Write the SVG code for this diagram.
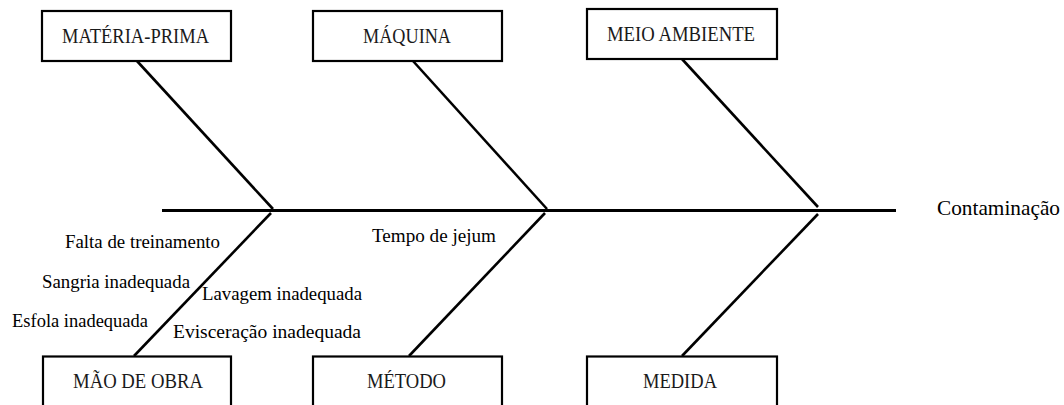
<svg xmlns="http://www.w3.org/2000/svg" width="1064" height="405" viewBox="0 0 1064 405">
<style>
.box{fill:#fff;stroke:#000;stroke-width:2.2}
.lbl{font-family:"Liberation Serif","Times New Roman",serif;font-size:20px;fill:#1a1a1a}
.cause{font-family:"Liberation Serif","Times New Roman",serif;font-size:18px;fill:#000}
.bone{stroke:#000;stroke-width:2.6;fill:none}
.spine{stroke:#000;stroke-width:3;fill:none}
</style>
<rect width="1064" height="405" fill="#fff"/>
<g id="connectors">
<line class="spine" x1="162" y1="210.5" x2="896" y2="210.5"/>
<line class="bone" x1="137" y1="61" x2="273" y2="209"/>
<line class="bone" x1="271" y1="213" x2="134" y2="356"/>
<line class="bone" x1="413" y1="61" x2="547" y2="209"/>
<line class="bone" x1="545" y1="213" x2="409" y2="356"/>
<line class="bone" x1="682" y1="59" x2="818" y2="207"/>
<line class="bone" x1="818" y1="214" x2="682" y2="356"/>
</g>
<g id="materia-prima">
<rect class="box" x="42" y="11" width="189" height="50"/>
<text class="lbl" x="62" y="43" textLength="147" lengthAdjust="spacingAndGlyphs">MATÉRIA-PRIMA</text>
</g>
<g id="maquina">
<rect class="box" x="313" y="11" width="189" height="50"/>
<text class="lbl" x="363" y="43" textLength="88" lengthAdjust="spacingAndGlyphs">MÁQUINA</text>
</g>
<g id="meio-ambiente">
<rect class="box" x="587" y="9" width="190" height="50"/>
<text class="lbl" x="607" y="41" textLength="148" lengthAdjust="spacingAndGlyphs">MEIO AMBIENTE</text>
</g>
<g id="mao-de-obra">
<rect class="box" x="43" y="356.5" width="188" height="52"/>
<text class="lbl" x="73" y="388" textLength="130" lengthAdjust="spacingAndGlyphs">MÃO DE OBRA</text>
</g>
<g id="metodo">
<rect class="box" x="313" y="356.5" width="189" height="52"/>
<text class="lbl" x="367" y="388" textLength="79" lengthAdjust="spacingAndGlyphs">MÉTODO</text>
</g>
<g id="medida">
<rect class="box" x="587" y="356.5" width="190" height="52"/>
<text class="lbl" x="643" y="388" textLength="74" lengthAdjust="spacingAndGlyphs">MEDIDA</text>
</g>
<g id="efeito">
<text class="cause" style="font-size:21px" x="937" y="215" textLength="123" lengthAdjust="spacingAndGlyphs">Contaminação</text>
</g>
<g id="causas">
<text class="cause" x="65" y="248" textLength="155" lengthAdjust="spacingAndGlyphs">Falta de treinamento</text>
<text class="cause" x="42" y="288" textLength="148" lengthAdjust="spacingAndGlyphs">Sangria inadequada</text>
<text class="cause" x="202" y="300" textLength="160" lengthAdjust="spacingAndGlyphs">Lavagem inadequada</text>
<text class="cause" x="12" y="327" textLength="136" lengthAdjust="spacingAndGlyphs">Esfola inadequada</text>
<text class="cause" x="173" y="338" textLength="188" lengthAdjust="spacingAndGlyphs">Evisceração inadequada</text>
<text class="cause" x="372" y="242" textLength="124" lengthAdjust="spacingAndGlyphs">Tempo de jejum</text>
</g>
</svg>
